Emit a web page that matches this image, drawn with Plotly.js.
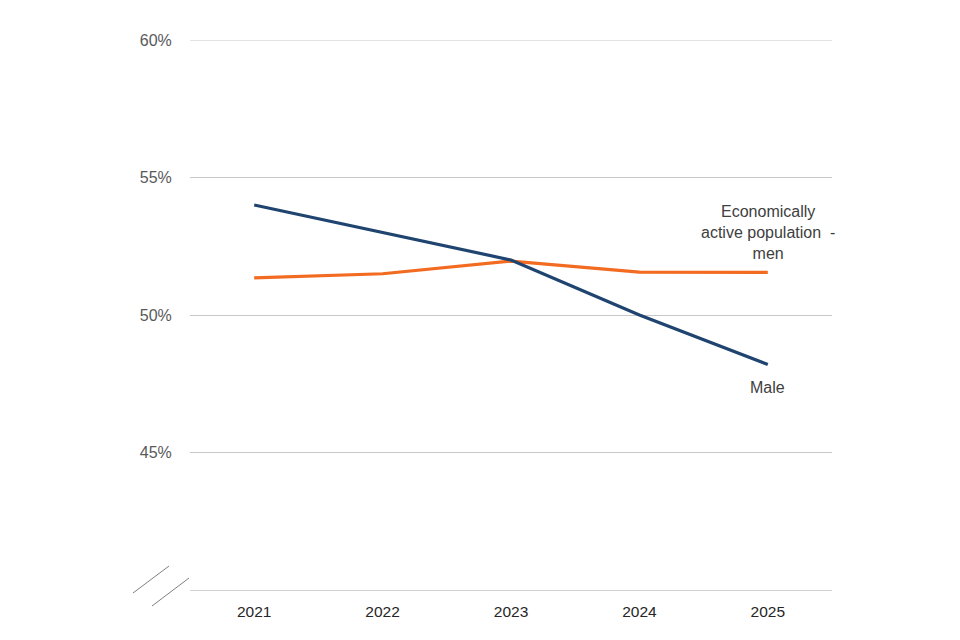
<!DOCTYPE html>
<html>
<head>
<meta charset="utf-8">
<script src="https://cdn.plot.ly/plotly-3.0.1.min.js"></script>
<style>html,body{margin:0;padding:0;background:#fff}#chart{width:960px;height:640px}</style>
</head>
<body>
<div id="chart"></div>
<script>
const years = ['2021', '2022', '2023', '2024', '2025'];
const maleValues = [54.0, 53.0, 52.0, 50.0, 48.2];
const econActiveMen = [51.35, 51.5, 51.96, 51.56, 51.55];
const yTickVals = [45, 50, 55, 60];
const yTickText = ['45%', '50%', '55%', '60%'];
const seriesNames = ['Male', 'Economically active population  - men'];

const traces = [
  {x: years, y: econActiveMen, type: 'scatter', mode: 'lines', name: seriesNames[1],
   line: {color: '#F26B21', width: 3.2}},
  {x: years, y: maleValues, type: 'scatter', mode: 'lines', name: seriesNames[0],
   line: {color: '#1F4470', width: 3.2}}
];

const L = 190, R = 832, T = 40, B = 590, W = 960, H = 640;
const px = v => (v - L) / (R - L);
const py = v => (B - v) / (B - T);
const lastIdx = years.length - 1;

const layout = {
  width: W, height: H,
  margin: {l: L, r: W - R, t: T, b: H - B, pad: 0},
  paper_bgcolor: '#ffffff', plot_bgcolor: '#ffffff',
  showlegend: false,
  font: {family: 'Liberation Sans, Arial, sans-serif', size: 15, color: '#595959'},
  xaxis: {
    type: 'category', range: [-0.5, 4.5], showgrid: false, zeroline: false,
    showline: true, linecolor: '#d0d0d0', linewidth: 1,
    ticks: 'outside', ticklen: 7, tickcolor: 'rgba(0,0,0,0)',
    tickfont: {size: 15.5, color: '#262626'}
  },
  yaxis: {
    range: [40, 60], tickvals: yTickVals, ticktext: yTickText,
    showgrid: true, gridcolor: '#c8c8c8', gridwidth: 1, zeroline: false, showline: false,
    ticks: 'outside', ticklen: 14, tickcolor: 'rgba(0,0,0,0)',
    tickfont: {size: 16, color: '#595959'}
  },
  shapes: [
    {type: 'line', xref: 'paper', yref: 'y', x0: 0, x1: 1, y0: yTickVals[3], y1: yTickVals[3],
     line: {color: '#c8c8c8', width: 1}},
    {type: 'line', xref: 'paper', yref: 'paper', x0: px(133), y0: py(593), x1: px(169), y1: py(566),
     line: {color: '#7f7f7f', width: 1}},
    {type: 'line', xref: 'paper', yref: 'paper', x0: px(152), y0: py(606), x1: px(189), y1: py(578),
     line: {color: '#7f7f7f', width: 1}}
  ],
  annotations: [
    {x: lastIdx, y: econActiveMen[lastIdx], xref: 'x', yref: 'y', yanchor: 'bottom', xanchor: 'center', yshift: 8,
     text: 'Economically<br>active population  -<br>men', showarrow: false, align: 'center',
     font: {size: 16, color: '#404040'}},
    {x: lastIdx, y: maleValues[lastIdx], xref: 'x', yref: 'y', yanchor: 'top', xanchor: 'center', yshift: -12,
     text: 'Male', showarrow: false, align: 'center',
     font: {size: 16, color: '#404040'}}
  ]
};

Plotly.newPlot('chart', traces, layout, {displayModeBar: false, staticPlot: true});
</script>
</body>
</html>
